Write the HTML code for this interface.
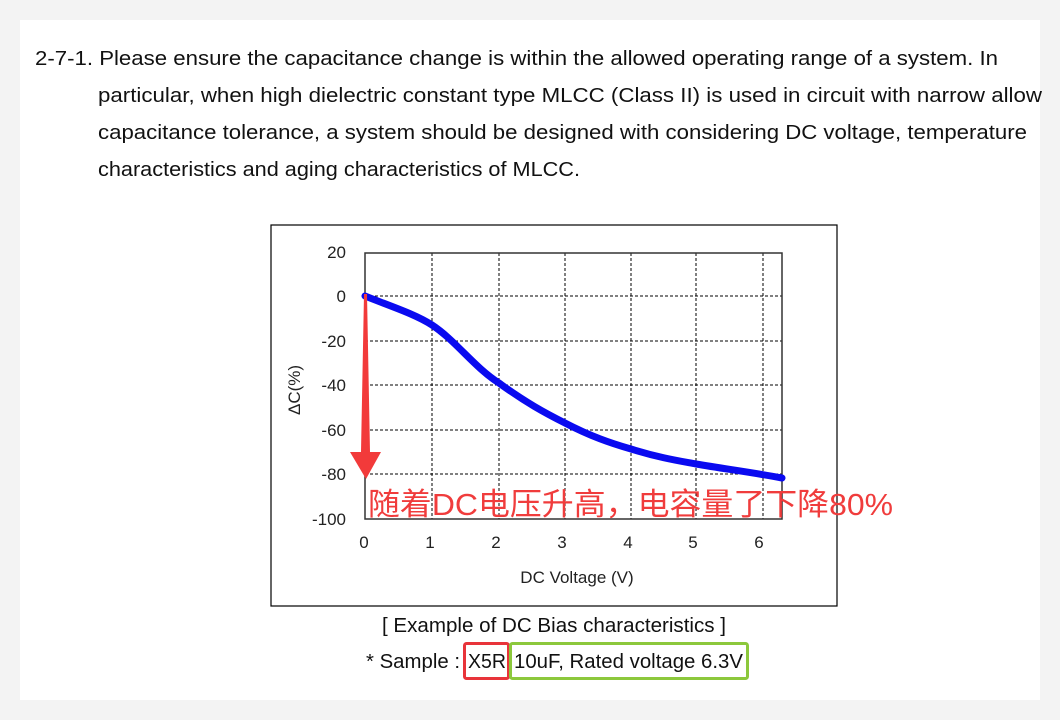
<!DOCTYPE html>
<html><head><meta charset="utf-8"><style>
body{margin:0;background:#f4f4f4;}
svg{display:block}
</style></head><body>
<svg width="1060" height="720" xmlns="http://www.w3.org/2000/svg">
<rect x="0" y="0" width="1060" height="720" fill="#f3f3f3"/>
<rect x="20" y="20" width="1020" height="680" fill="#fff"/>
<g font-family="Liberation Sans, sans-serif" font-size="20" fill="#111">
<text x="35" y="65" textLength="963" lengthAdjust="spacingAndGlyphs">2-7-1. Please ensure the capacitance change is within the allowed operating range of a system. In</text>
<text x="98" y="102" textLength="944" lengthAdjust="spacingAndGlyphs">particular, when high dielectric constant type MLCC (Class II) is used in circuit with narrow allow</text>
<text x="98" y="139" textLength="929" lengthAdjust="spacingAndGlyphs">capacitance tolerance, a system should be designed with considering DC voltage, temperature</text>
<text x="98" y="176" textLength="482" lengthAdjust="spacingAndGlyphs">characteristics and aging characteristics of MLCC.</text>
<text x="382" y="632" textLength="344" lengthAdjust="spacingAndGlyphs">[ Example of DC Bias characteristics ]</text>
<text x="366" y="668" textLength="94" lengthAdjust="spacingAndGlyphs">* Sample :</text>
<text x="468" y="668" textLength="38" lengthAdjust="spacingAndGlyphs">X5R</text>
<text x="514" y="668" textLength="229" lengthAdjust="spacingAndGlyphs">10uF, Rated voltage 6.3V</text>
</g>
<rect x="464.5" y="643.5" width="44" height="35" rx="2" fill="none" stroke="#e8343a" stroke-width="3"/>
<rect x="510.5" y="643.5" width="237" height="35" rx="2" fill="none" stroke="#8cc83c" stroke-width="3"/>
<rect x="271" y="225" width="566" height="381" fill="none" stroke="#000" stroke-width="1.2"/>
<g stroke="#000" stroke-width="1" stroke-dasharray="3,2">
<line x1="432" y1="253" x2="432" y2="519"/><line x1="499" y1="253" x2="499" y2="519"/>
<line x1="565" y1="253" x2="565" y2="519"/><line x1="631" y1="253" x2="631" y2="519"/>
<line x1="696" y1="253" x2="696" y2="519"/><line x1="763" y1="253" x2="763" y2="519"/>
<line x1="365" y1="296" x2="782" y2="296"/><line x1="365" y1="341" x2="782" y2="341"/>
<line x1="365" y1="385" x2="782" y2="385"/><line x1="365" y1="430" x2="782" y2="430"/>
<line x1="365" y1="474" x2="782" y2="474"/>
</g>
<rect x="365" y="253" width="417" height="266" fill="none" stroke="#333" stroke-width="1.5"/>
<g font-family="Liberation Sans, sans-serif" font-size="17" fill="#222" text-anchor="end">
<text x="346" y="258">20</text><text x="346" y="302">0</text><text x="346" y="347">-20</text>
<text x="346" y="391">-40</text><text x="346" y="436">-60</text><text x="346" y="480">-80</text><text x="346" y="525">-100</text>
</g>
<g font-family="Liberation Sans, sans-serif" font-size="17" fill="#222" text-anchor="middle">
<text x="364" y="548">0</text><text x="430" y="548">1</text><text x="496" y="548">2</text><text x="562" y="548">3</text>
<text x="628" y="548">4</text><text x="693" y="548">5</text><text x="759" y="548">6</text>
<text x="577" y="583">DC Voltage (V)</text>
<text transform="translate(300,390) rotate(-90)">ΔC(%)</text>
</g>
<path d="M365,296 C390,306 415,314 432,325 C455,340 475,368 499,383 C525,402 545,413 565,423 C590,436 610,443 631,449 C660,458 680,461 696,464 C725,469 750,472 782,478" fill="none" stroke="#0a0af0" stroke-width="7" stroke-linecap="round"/>
<path d="M364,294 L367,294 L370,452 L381,452 L366,479 L350,452 L361,452 Z" fill="#f23a3a"/>
<text x="368" y="515" font-family="Liberation Sans, 'Noto Sans CJK SC', sans-serif" font-size="31" fill="#f03c3c" textLength="525" lengthAdjust="spacingAndGlyphs">随着DC电压升高，电容量了下降80%</text>
</svg>
</body></html>
